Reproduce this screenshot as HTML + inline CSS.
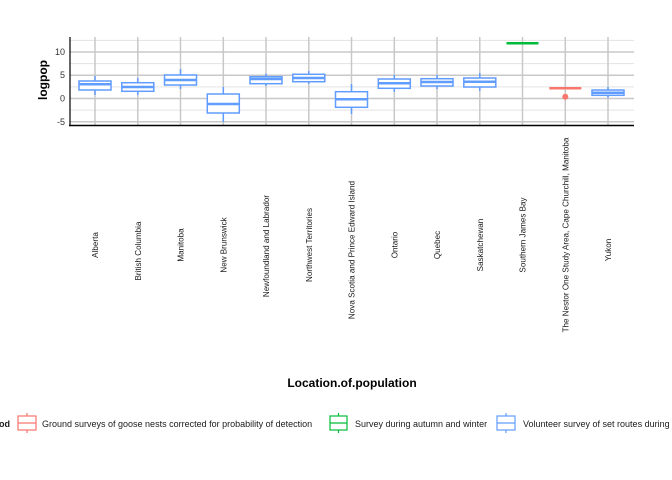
<!DOCTYPE html>
<html><head><meta charset="utf-8"><style>html,body{margin:0;padding:0;background:#fff}svg{display:block}</style></head>
<body>
<svg width="672" height="480" viewBox="0 0 672 480" xmlns="http://www.w3.org/2000/svg" font-family="Liberation Sans, sans-serif">
<rect width="672" height="480" fill="#fff"/>
<g stroke="#e3e3e3" stroke-width="1">
<line x1="70" x2="634" y1="40.4" y2="40.4"/>
<line x1="70" x2="634" y1="63.6" y2="63.6"/>
<line x1="70" x2="634" y1="86.9" y2="86.9"/>
<line x1="70" x2="634" y1="110.1" y2="110.1"/>
</g>
<g stroke="#c8c8c8" stroke-width="1.5">
<line x1="70" x2="634" y1="52" y2="52"/>
<line x1="70" x2="634" y1="75.2" y2="75.2"/>
<line x1="70" x2="634" y1="98.5" y2="98.5"/>
<line x1="70" x2="634" y1="121.7" y2="121.7"/>
<line x1="95" x2="95" y1="37" y2="125"/><line x1="137.8" x2="137.8" y1="37" y2="125"/><line x1="180.5" x2="180.5" y1="37" y2="125"/><line x1="223.3" x2="223.3" y1="37" y2="125"/><line x1="266" x2="266" y1="37" y2="125"/><line x1="308.8" x2="308.8" y1="37" y2="125"/><line x1="351.5" x2="351.5" y1="37" y2="125"/><line x1="394.3" x2="394.3" y1="37" y2="125"/><line x1="437" x2="437" y1="37" y2="125"/><line x1="479.8" x2="479.8" y1="37" y2="125"/><line x1="522.5" x2="522.5" y1="37" y2="125"/><line x1="565.3" x2="565.3" y1="37" y2="125"/><line x1="608" x2="608" y1="37" y2="125"/>
</g>
<line x1="70" x2="70" y1="37" y2="126" stroke="#000" stroke-width="1.2"/>
<line x1="69" x2="634" y1="125.5" y2="125.5" stroke="#000" stroke-width="1.5"/>
<g font-size="9" fill="#333" text-anchor="end">
<text x="65" y="55">10</text><text x="65" y="78">5</text><text x="65" y="101.5">0</text><text x="65" y="125">-5</text>
</g>
<text transform="translate(47,80) rotate(-90)" text-anchor="middle" font-size="12" font-weight="bold">logpop</text>
<g stroke="#619cff" stroke-width="1.5" fill="#fff">
<line x1="95" x2="95" y1="76" y2="95"/><rect x="79" y="81" width="32" height="9"/><line x1="79" x2="111" y1="84.3" y2="84.3" stroke-width="2.5"/>
<line x1="137.8" x2="137.8" y1="78" y2="95"/><rect x="121.8" y="82.7" width="32" height="8.6"/><line x1="121.8" x2="153.8" y1="87" y2="87" stroke-width="2.5"/>
<line x1="180.5" x2="180.5" y1="69" y2="89"/><rect x="164.5" y="75" width="32" height="10"/><line x1="164.5" x2="196.5" y1="80" y2="80" stroke-width="2.5"/>
<line x1="223.3" x2="223.3" y1="87" y2="122"/><rect x="207.3" y="94" width="32" height="19"/><line x1="207.3" x2="239.3" y1="104" y2="104" stroke-width="2.5"/>
<line x1="266" x2="266" y1="73.7" y2="86"/><rect x="250" y="76.7" width="32" height="7"/><line x1="250" x2="282" y1="79" y2="79" stroke-width="2.5"/>
<line x1="308.8" x2="308.8" y1="71" y2="84"/><rect x="292.8" y="74.3" width="32" height="7.4"/><line x1="292.8" x2="324.8" y1="78" y2="78" stroke-width="2.5"/>
<line x1="351.5" x2="351.5" y1="84" y2="114"/><rect x="335.5" y="91.7" width="32" height="15.6"/><line x1="335.5" x2="367.5" y1="99.3" y2="99.3" stroke-width="2.5"/>
<line x1="394.3" x2="394.3" y1="75" y2="92"/><rect x="378.3" y="79" width="32" height="9.3"/><line x1="378.3" x2="410.3" y1="83.3" y2="83.3" stroke-width="2.5"/>
<line x1="437" x2="437" y1="75" y2="89"/><rect x="421" y="78.7" width="32" height="7.3"/><line x1="421" x2="453" y1="82" y2="82" stroke-width="2.5"/>
<line x1="479.8" x2="479.8" y1="73" y2="91"/><rect x="463.8" y="78" width="32" height="9"/><line x1="463.8" x2="495.8" y1="81.7" y2="81.7" stroke-width="2.5"/>
<line x1="608" x2="608" y1="87" y2="97.7"/><rect x="592" y="90" width="32" height="5.3"/><line x1="592" x2="624" y1="92.7" y2="92.7" stroke-width="2.5"/>
</g>
<line x1="506.5" x2="538.5" y1="43.3" y2="43.3" stroke="#00ba38" stroke-width="2.5"/>
<line x1="549.3" x2="581.3" y1="88.3" y2="88.3" stroke="#f8766d" stroke-width="2.5"/>
<circle cx="565.3" cy="96.7" r="3" fill="#f8766d"/>
<g font-size="8.1" fill="#1a1a1a" text-anchor="middle">
<text transform="translate(98,245) rotate(-90)">Alberta</text>
<text transform="translate(140.8,251) rotate(-90)">British Columbia</text>
<text transform="translate(183.5,245) rotate(-90)">Manitoba</text>
<text transform="translate(226.3,245) rotate(-90)">New Brunswick</text>
<text transform="translate(269,246) rotate(-90)">Newfoundland and Labrador</text>
<text transform="translate(311.8,245) rotate(-90)">Northwest Territories</text>
<text transform="translate(354.5,250) rotate(-90)">Nova Scotia and Prince Edward Island</text>
<text transform="translate(397.3,245) rotate(-90)">Ontario</text>
<text transform="translate(440,245) rotate(-90)">Quebec</text>
<text transform="translate(482.8,245) rotate(-90)">Saskatchewan</text>
<text transform="translate(525.5,235) rotate(-90)">Southern James Bay</text>
<text transform="translate(568.3,235) rotate(-90)">The Nestor One Study Area, Cape Churchill, Manitoba</text>
<text transform="translate(611,250) rotate(-90)">Yukon</text>
</g>
<text x="352" y="387" text-anchor="middle" font-size="12" font-weight="bold">Location.of.population</text>
<g font-size="9" fill="#1a1a1a">
<text x="-1" y="427" font-weight="bold">od</text>
<g stroke="#f8766d" fill="#fff" stroke-width="1.2"><line x1="27" x2="27" y1="413" y2="433"/><rect x="18" y="416" width="18" height="14"/><line x1="18" x2="36" y1="423" y2="423"/></g>
<text x="42" y="427">Ground surveys of goose nests corrected for probability of detection</text>
<g stroke="#00ba38" fill="#fff" stroke-width="1.2"><line x1="338.5" x2="338.5" y1="413" y2="433"/><rect x="330" y="416" width="17" height="14"/><line x1="330" x2="347" y1="423" y2="423"/></g>
<text x="355" y="427">Survey during autumn and winter</text>
<g stroke="#619cff" fill="#fff" stroke-width="1.2"><line x1="506" x2="506" y1="413" y2="433"/><rect x="497" y="416" width="18" height="14"/><line x1="497" x2="515" y1="423" y2="423"/></g>
<text x="523" y="427">Volunteer survey of set routes during</text>
</g>
</svg>
</body></html>
